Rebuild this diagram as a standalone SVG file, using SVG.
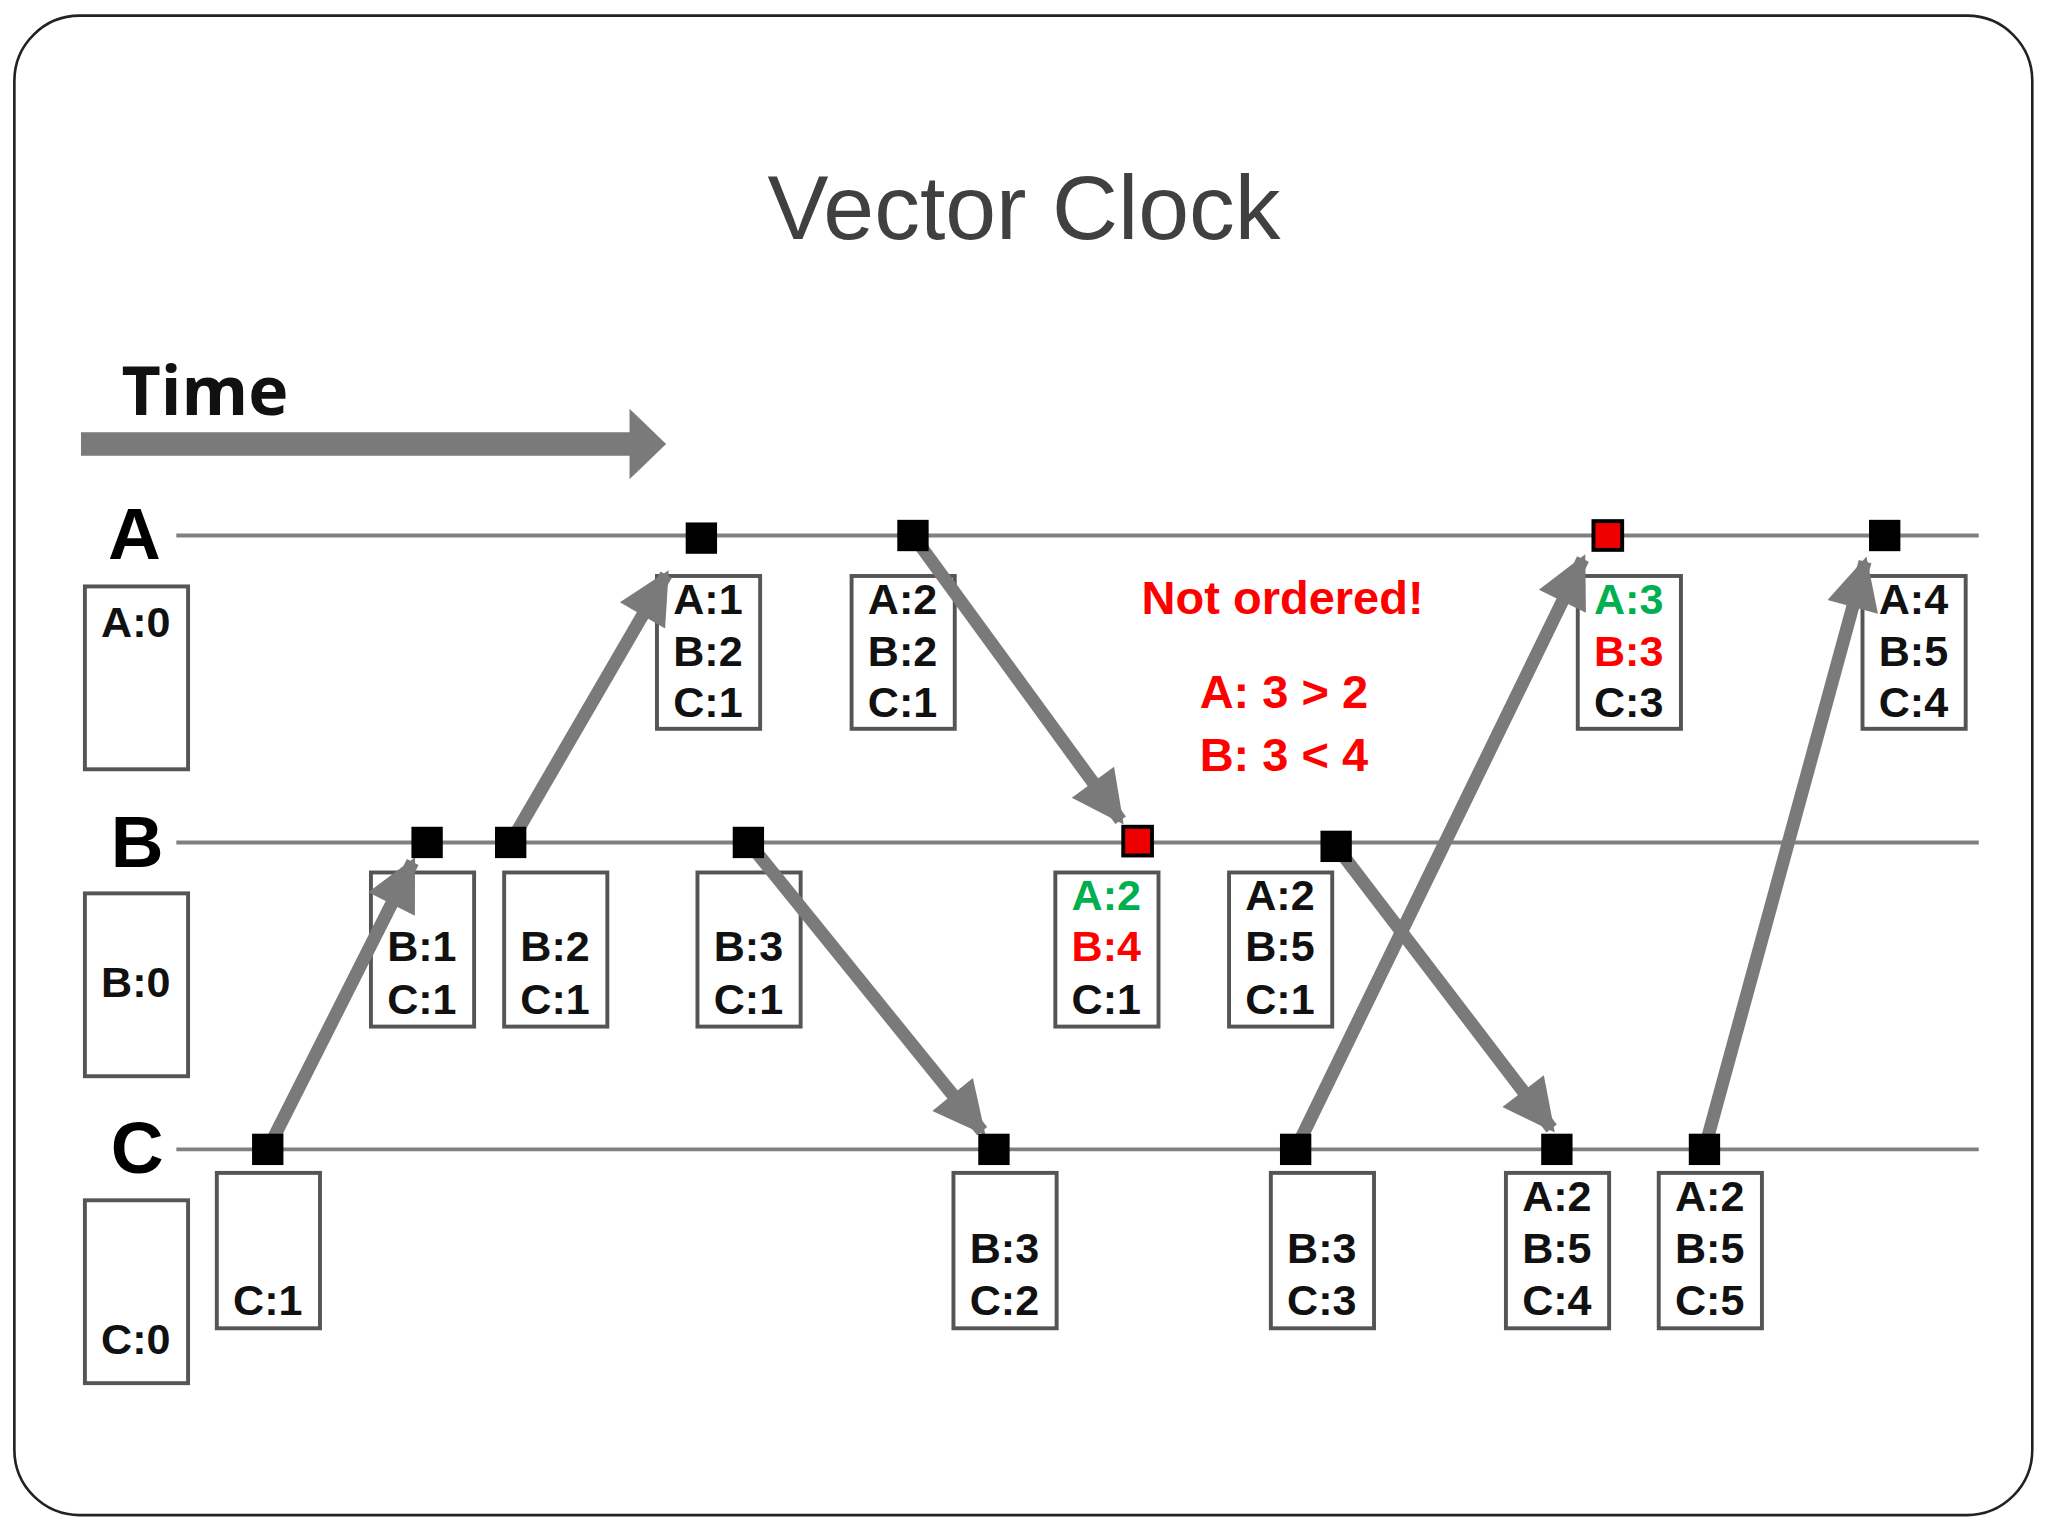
<svg xmlns="http://www.w3.org/2000/svg" width="2048" height="1536" viewBox="0 0 2048 1536">
<defs>
<style>
.t{font-family:"Liberation Sans",Arial,sans-serif;font-weight:bold;text-anchor:middle}
.v{font-size:33px;fill:#111}
.lane{stroke:#808080;stroke-width:3}
.box{fill:#fff;stroke:#555;stroke-width:3}
.ev{fill:#000}
.evr{fill:#e00;stroke:#000;stroke-width:3}
.arr{stroke:#7a7a7a;stroke-width:10;fill:none;marker-end:url(#h)}
.g{fill:#00b050}.r{fill:#ff0000}
</style>
<marker id="h" viewBox="0 0 10 10" refX="9" refY="5" markerWidth="4.6" markerHeight="4" orient="auto" markerUnits="strokeWidth"><path d="M0,0L10,5L0,10z" fill="#7a7a7a"/></marker>
</defs>
<rect width="2048" height="1536" fill="#fff"/>
<g transform="scale(1.3061)">
<rect x="11" y="12" width="1545" height="1148" rx="50" fill="none" stroke="#222" stroke-width="2"/>
<text x="784" y="183" font-family="'Liberation Sans',Arial,sans-serif" font-size="70" fill="#404040" text-anchor="middle">Vector Clock</text>
<text x="93" y="318" font-family="'Open Sans','Liberation Sans',sans-serif" font-weight="bold" font-size="52" fill="#111">Time</text>
<path d="M62,331H482V313L510,340L482,367V349H62z" fill="#7a7a7a"/>
<g id="lanes">
<line class="lane" x1="135" y1="410" x2="1515" y2="410"/>
<line class="lane" x1="135" y1="645" x2="1515" y2="645"/>
<line class="lane" x1="135" y1="880" x2="1515" y2="880"/>
<text class="t" x="103" y="428" font-size="56">A</text>
<text class="t" x="105" y="664" font-size="56">B</text>
<text class="t" x="105" y="898" font-size="56">C</text>
</g>
<g id="init">
<rect class="box" x="65" y="449" width="79" height="140"/><text class="t v" x="104" y="488">A:0</text>
<rect class="box" x="65" y="684" width="79" height="140"/><text class="t v" x="104" y="763">B:0</text>
<rect class="box" x="65" y="919" width="79" height="140"/><text class="t v" x="104" y="1037">C:0</text>
</g>
<g id="boxA1"><rect class="box" x="503" y="441" width="79" height="117"/><text class="t v" x="542" y="470">A:1</text><text class="t v" x="542" y="510">B:2</text><text class="t v" x="542" y="549">C:1</text></g>
<g id="boxA2"><rect class="box" x="652" y="441" width="79" height="117"/><text class="t v" x="691" y="470">A:2</text><text class="t v" x="691" y="510">B:2</text><text class="t v" x="691" y="549">C:1</text></g>
<g id="boxA3"><rect class="box" x="1208" y="441" width="79" height="117"/><text class="t v g" x="1247" y="470">A:3</text><text class="t v r" x="1247" y="510">B:3</text><text class="t v" x="1247" y="549">C:3</text></g>
<g id="boxA4"><rect class="box" x="1426" y="441" width="79" height="117"/><text class="t v" x="1465" y="470">A:4</text><text class="t v" x="1465" y="510">B:5</text><text class="t v" x="1465" y="549">C:4</text></g>
<g id="boxB1"><rect class="box" x="284" y="668" width="79" height="118"/><text class="t v" x="323" y="736">B:1</text><text class="t v" x="323" y="776">C:1</text></g>
<g id="boxB2"><rect class="box" x="386" y="668" width="79" height="118"/><text class="t v" x="425" y="736">B:2</text><text class="t v" x="425" y="776">C:1</text></g>
<g id="boxB3"><rect class="box" x="534" y="668" width="79" height="118"/><text class="t v" x="573" y="736">B:3</text><text class="t v" x="573" y="776">C:1</text></g>
<g id="boxB4"><rect class="box" x="808" y="668" width="79" height="118"/><text class="t v g" x="847" y="697">A:2</text><text class="t v r" x="847" y="736">B:4</text><text class="t v" x="847" y="776">C:1</text></g>
<g id="boxB5"><rect class="box" x="941" y="668" width="79" height="118"/><text class="t v" x="980" y="697">A:2</text><text class="t v" x="980" y="736">B:5</text><text class="t v" x="980" y="776">C:1</text></g>
<g id="boxC1"><rect class="box" x="166" y="898" width="79" height="119"/><text class="t v" x="205" y="1007">C:1</text></g>
<g id="boxC2"><rect class="box" x="730" y="898" width="79" height="119"/><text class="t v" x="769" y="967">B:3</text><text class="t v" x="769" y="1007">C:2</text></g>
<g id="boxC3"><rect class="box" x="973" y="898" width="79" height="119"/><text class="t v" x="1012" y="967">B:3</text><text class="t v" x="1012" y="1007">C:3</text></g>
<g id="boxC4"><rect class="box" x="1153" y="898" width="79" height="119"/><text class="t v" x="1192" y="927">A:2</text><text class="t v" x="1192" y="967">B:5</text><text class="t v" x="1192" y="1007">C:4</text></g>
<g id="boxC5"><rect class="box" x="1270" y="898" width="79" height="119"/><text class="t v" x="1309" y="927">A:2</text><text class="t v" x="1309" y="967">B:5</text><text class="t v" x="1309" y="1007">C:5</text></g>
<g id="connectors">
<line class="arr" x1="205" y1="880" x2="316" y2="660"/>
<line class="arr" x1="391" y1="645" x2="510" y2="440"/>
<line class="arr" x1="699" y1="410" x2="858" y2="628"/>
<line class="arr" x1="573" y1="645" x2="752" y2="866"/>
<line class="arr" x1="992" y1="880" x2="1212" y2="428"/>
<line class="arr" x1="1023" y1="648" x2="1188" y2="864"/>
<line class="arr" x1="1305" y1="880" x2="1428" y2="430"/>
</g>
<g id="eventsA">
<rect class="ev" x="525" y="400" width="24" height="24"/>
<rect class="ev" x="687" y="398" width="24" height="24"/>
<rect class="evr" x="1220" y="399" width="22" height="22"/>
<rect class="ev" x="1431" y="398" width="24" height="24"/>
</g>
<g id="eventsB">
<rect class="ev" x="315" y="633" width="24" height="24"/>
<rect class="ev" x="379" y="633" width="24" height="24"/>
<rect class="ev" x="561" y="633" width="24" height="24"/>
<rect class="evr" x="860" y="633" width="22" height="22"/>
<rect class="ev" x="1011" y="636" width="24" height="24"/>
</g>
<g id="eventsC">
<rect class="ev" x="193" y="868" width="24" height="24"/>
<rect class="ev" x="749" y="868" width="24" height="24"/>
<rect class="ev" x="980" y="868" width="24" height="24"/>
<rect class="ev" x="1180" y="868" width="24" height="24"/>
<rect class="ev" x="1293" y="868" width="24" height="24"/>
</g>
<g id="note">
<text class="t r" x="982" y="470" font-size="36">Not ordered!</text>
<text class="t r" x="983" y="542" font-size="36">A: 3 &gt; 2</text>
<text class="t r" x="983" y="590" font-size="36">B: 3 &lt; 4</text>
</g>
</g>
</svg>
